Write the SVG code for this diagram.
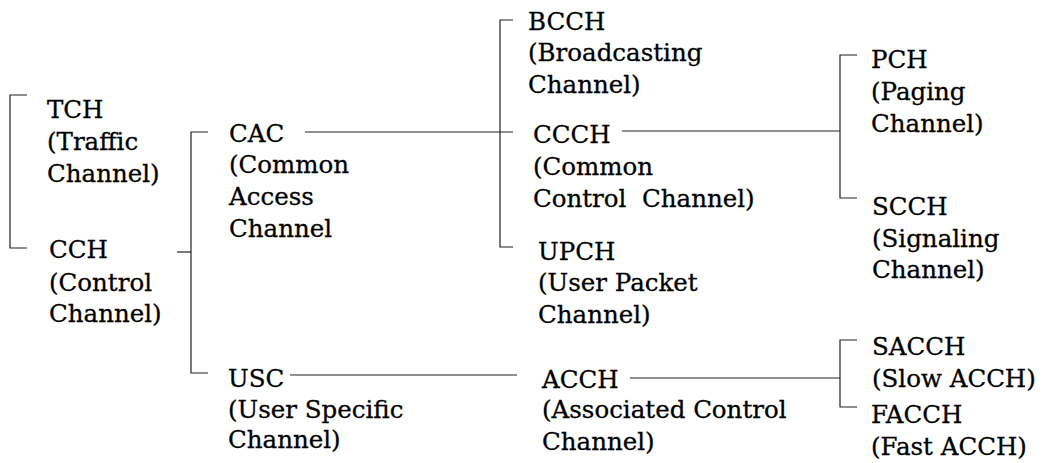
<svg xmlns="http://www.w3.org/2000/svg" width="1048" height="463" viewBox="0 0 1048 463">
<style>
text{font-family:"DejaVu Serif","Liberation Serif",serif;font-size:24.5px;fill:#000;stroke:#000;stroke-width:0.3}
.c path{fill:none;stroke:#222;stroke-width:1.2}
</style>
<rect width="1048" height="463" fill="#fff"/>
<g class="c" id="connectors">
<path d="M27,95 H10 V248 H27"/>
<path d="M177,252 H191"/>
<path d="M208,132 H191 V373 H208"/>
<path d="M305,132 H513"/>
<path d="M513,20 H500 V247 H513"/>
<path d="M622,131 H840"/>
<path d="M857,55 H840 V198 H857"/>
<path d="M290,375 H517"/>
<path d="M630,378 H840"/>
<path d="M857,340 H840 V407 H857"/>
</g>
<g id="tch"><text x="47" y="118">TCH</text><text x="47" y="150">(Traffic</text><text x="47" y="182">Channel)</text></g>
<g id="cch"><text x="49" y="258">CCH</text><text x="49" y="291">(Control</text><text x="49" y="322">Channel)</text></g>
<g id="cac"><text x="229" y="142">CAC</text><text x="229" y="173">(Common</text><text x="229" y="205">Access</text><text x="229" y="237">Channel</text></g>
<g id="usc"><text x="228" y="387">USC</text><text x="228" y="418">(User Specific</text><text x="228" y="448">Channel)</text></g>
<g id="bcch"><text x="528" y="30">BCCH</text><text x="528" y="61">(Broadcasting</text><text x="528" y="93">Channel)</text></g>
<g id="ccch"><text x="533" y="143">CCCH</text><text x="533" y="175">(Common</text><text x="533" y="207" xml:space="preserve">Control  Channel)</text></g>
<g id="upch"><text x="538" y="260">UPCH</text><text x="538" y="291">(User Packet</text><text x="538" y="323">Channel)</text></g>
<g id="acch"><text x="542" y="388">ACCH</text><text x="542" y="418">(Associated Control</text><text x="542" y="450">Channel)</text></g>
<g id="pch"><text x="871" y="68">PCH</text><text x="871" y="100">(Paging</text><text x="871" y="132">Channel)</text></g>
<g id="scch"><text x="872" y="215">SCCH</text><text x="872" y="247">(Signaling</text><text x="872" y="278">Channel)</text></g>
<g id="sacch"><text x="872" y="355">SACCH</text><text x="872" y="387">(Slow ACCH)</text></g>
<g id="facch"><text x="871" y="423">FACCH</text><text x="871" y="455">(Fast ACCH)</text></g>
</svg>
